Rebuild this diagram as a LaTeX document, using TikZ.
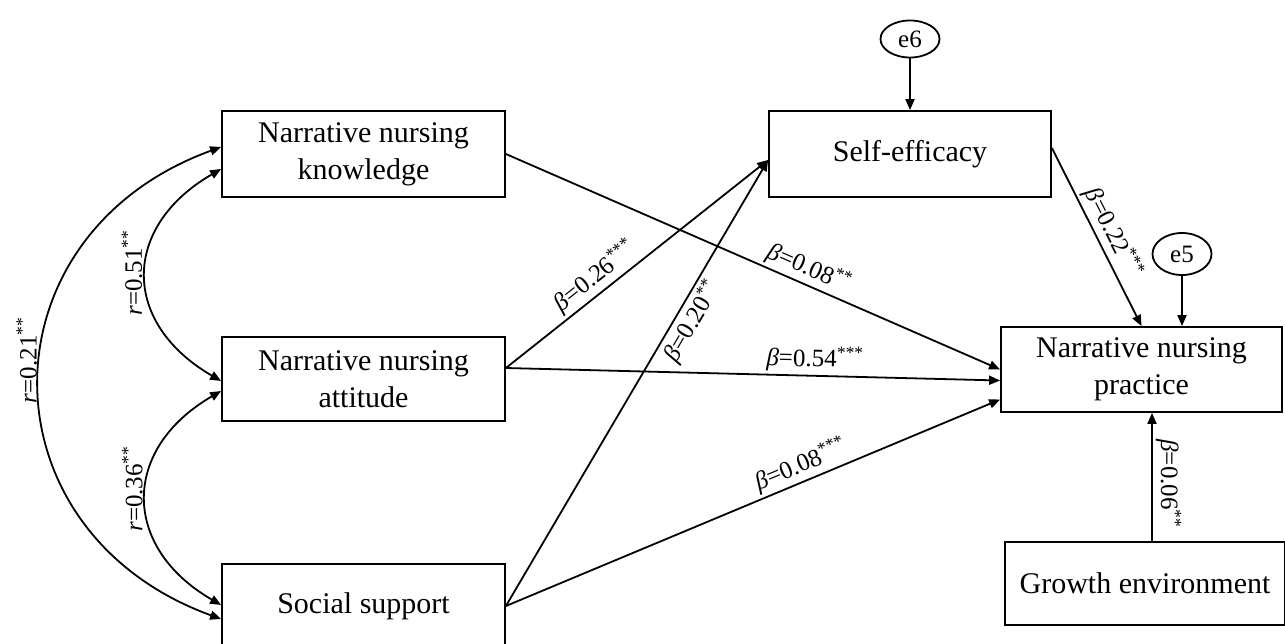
\documentclass[tikz,border=0pt]{standalone}
\usepackage{fontspec}
\setmainfont{Liberation Serif}
\usetikzlibrary{arrows.meta,shapes.geometric}
\begin{document}
\begin{tikzpicture}[x=0.5pt,y=-0.5pt,
 box/.style={draw, line width=0.9pt, rectangle, align=center, font=\fontsize{15}{18.5}\selectfont, inner sep=0pt},
 err/.style={draw, line width=0.9pt, ellipse, inner sep=0pt, font=\fontsize{12.5}{14}\selectfont},
 conn/.style={line width=0.9pt, -{Triangle[length=5.5pt,width=4.5pt]}},
 corr/.style={line width=0.9pt, {Triangle[length=5.5pt,width=4.5pt]}-{Triangle[length=5.5pt,width=4.5pt]}},
 lab/.style={font=\fontsize{12.5}{14}\selectfont, inner sep=1.5pt},
]
\useasboundingbox (0,0) rectangle (1285,643);

\node[box, minimum width=141.5pt, minimum height=43pt] (know) at (363.5,154) {Narrative nursing\\knowledge};
\node[box, minimum width=141.5pt, minimum height=42pt] (att) at (363.5,379) {Narrative nursing\\attitude};
\node[box, minimum width=141.5pt, minimum height=42pt] (soc) at (363.5,606) {Social support};
\node[box, minimum width=141pt, minimum height=43pt] (se) at (910,154) {Self-efficacy};
\node[box, minimum width=140.5pt, minimum height=42.5pt] (prac) at (1141.5,369.5) {Narrative nursing\\practice};
\node[box, minimum width=140pt, minimum height=41.5pt] (grow) at (1145,583.5) {Growth environment};
\node[err, minimum width=29.5pt, minimum height=18.5pt] (e6) at (910,39) {e6};
\node[err, minimum width=29.5pt, minimum height=21pt] (e5) at (1182,254) {e5};

\coordinate (gtop) at ([xshift=3.5pt]grow.north);

\draw[conn] (e6) -- (se);
\draw[conn] (e5.south) -- (e5.south |- prac.north);
\draw[conn] ([yshift=3pt]se.east) -- node[lab, sloped, above, pos=0.52] {{\itshape β}=0.22\textsuperscript{***}} (prac.north);
\draw[conn] (know.east) -- node[lab, sloped, above, pos=0.6] {{\itshape β}=0.08\textsuperscript{**}} (prac.west);
\draw[conn] ([yshift=5.5pt]att.east) -- node[lab, sloped, above, pos=0.38] {{\itshape β}=0.26\textsuperscript{***}} ([yshift=-3pt]se.west);
\draw[conn] ([yshift=5.5pt]att.east) -- node[lab, sloped, above, pos=0.625] {{\itshape β}=0.54\textsuperscript{***}} ([yshift=-5.5pt]prac.west);
\draw[conn] (soc.east) -- node[lab, sloped, below, pos=0.657] {{\itshape β}=0.20\textsuperscript{**}} ([yshift=-3pt]se.west);
\draw[conn] (soc.east) -- node[lab, sloped, above, pos=0.61] {{\itshape β}=0.08\textsuperscript{***}} ([yshift=-15pt]prac.west);
\draw[conn] (gtop) -- node[lab, rotate=-90, anchor=south, pos=0.446] {{\itshape β}=0.06\textsuperscript{**}} (gtop |- prac.south);

\draw[corr] ([yshift=-7.5pt]know.west) .. controls +(-100,58) and +(-100,-58) .. node[lab, rotate=90, anchor=south, pos=0.49] {\textit{r}=0.51\textsuperscript{**}} ([yshift=-1pt]att.west);
\draw[corr] ([yshift=-6pt]att.west) .. controls +(-100,58) and +(-100,-58) .. node[lab, rotate=90, anchor=south, pos=0.46] {\textit{r}=0.36\textsuperscript{**}} ([yshift=0.5pt]soc.west);
\draw[corr] ([yshift=3.5pt]know.west) .. controls +(-242,88) and +(-242,-88) .. node[lab, rotate=90, anchor=south, pos=0.46] {\textit{r}=0.21\textsuperscript{**}} ([yshift=-6.5pt]soc.west);
\end{tikzpicture}
\end{document}
